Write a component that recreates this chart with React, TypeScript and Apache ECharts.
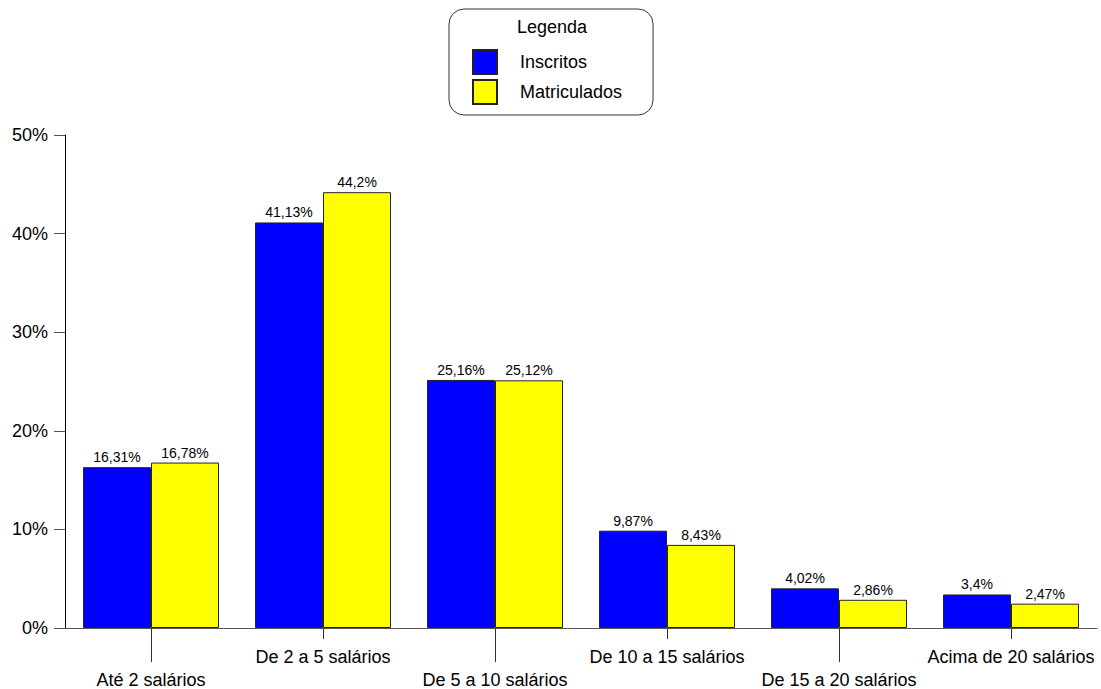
import React, { useEffect, useRef } from "react";
import * as echarts from "echarts";

const categories = [
  "Até 2 salários",
  "De 2 a 5 salários",
  "De 5 a 10 salários",
  "De 10 a 15 salários",
  "De 15 a 20 salários",
  "Acima de 20 salários",
];
const inscritos = [16.31, 41.13, 25.16, 9.87, 4.02, 3.4];
const matriculados = [16.78, 44.2, 25.12, 8.43, 2.86, 2.47];
const seriesNames = ["Inscritos", "Matriculados"];
const legendTitle = "Legenda";
const yTicks = { min: 0, max: 50, interval: 10 };

const FONT = "'Liberation Sans', Arial, sans-serif";

export default function App() {
  const ref = useRef<HTMLDivElement>(null);
  useEffect(() => {
    if (!ref.current) return;
    const chart = echarts.init(ref.current, undefined, { renderer: "svg" });
    const fmt = (v: number) => String(v).replace(".", ",") + "%";
    const barLabel = {
      show: true,
      position: "top" as const,
      distance: 3,
      fontSize: 14,
      color: "#000",
      fontFamily: FONT,
      formatter: (p: any) => fmt(p.value),
    };
    chart.setOption({
      animation: false,
      textStyle: { fontFamily: FONT },
      grid: { left: 65, right: 4, top: 135, bottom: 61, containLabel: false },
      legend: {
        orient: "vertical",
        left: 449,
        top: 9,
        width: 160,
        padding: [40, 31, 10, 23],
        borderColor: "#333",
        borderWidth: 1,
        borderRadius: 15,
        itemWidth: 24,
        itemHeight: 24,
        itemGap: 4,
        icon: "rect",
        textStyle: { fontSize: 18, color: "#000", fontFamily: FONT, padding: [0, 0, 0, 18] },
        data: seriesNames,
      },
      graphic: [
        {
          type: "text",
          left: 517,
          top: 18,
          style: { text: legendTitle, fontSize: 18, fill: "#000", fontFamily: FONT },
        },
      ],
      xAxis: [
        {
          type: "category",
          data: categories,
          position: "bottom",
          axisLine: { show: true, lineStyle: { color: "#555", width: 1 } },
          axisTick: {
            show: true,
            alignWithLabel: true,
            length: 34,
            interval: (i: number) => i % 2 === 0,
            lineStyle: { color: "#333" },
          },
          axisLabel: {
            interval: (i: number) => i % 2 === 0,
            margin: 43,
            fontSize: 18,
            color: "#000",
            fontFamily: FONT,
          },
        },
        {
          type: "category",
          data: categories,
          position: "bottom",
          axisLine: { show: false },
          axisTick: {
            show: true,
            alignWithLabel: true,
            length: 11,
            interval: (i: number) => i % 2 === 1,
            lineStyle: { color: "#333" },
          },
          axisLabel: {
            interval: (i: number) => i % 2 === 1,
            margin: 20,
            fontSize: 18,
            color: "#000",
            fontFamily: FONT,
          },
        },
      ],
      yAxis: {
        type: "value",
        min: yTicks.min,
        max: yTicks.max,
        interval: yTicks.interval,
        axisLine: { show: true, lineStyle: { color: "#000", width: 1 } },
        axisTick: { show: true, length: 11, lineStyle: { color: "#555" } },
        splitLine: { show: false },
        axisLabel: {
          formatter: "{value}%",
          fontSize: 18,
          color: "#000",
          margin: 17,
          fontFamily: FONT,
        },
      },
      series: [
        {
          name: seriesNames[0],
          type: "bar",
          xAxisIndex: 0,
          data: inscritos,
          barWidth: 68,
          barGap: "0%",
          itemStyle: { color: "#0000FF", borderColor: "#222", borderWidth: 1 },
          label: barLabel,
        },
        {
          name: seriesNames[1],
          type: "bar",
          xAxisIndex: 0,
          data: matriculados,
          barWidth: 68,
          barGap: "0%",
          itemStyle: { color: "#FFFF00", borderColor: "#222", borderWidth: 1 },
          label: barLabel,
        },
      ],
    });
    return () => chart.dispose();
  }, []);
  return <div ref={ref} style={{ width: 1101, height: 689, position: "absolute", left: 0, top: 0 }} />;
}
